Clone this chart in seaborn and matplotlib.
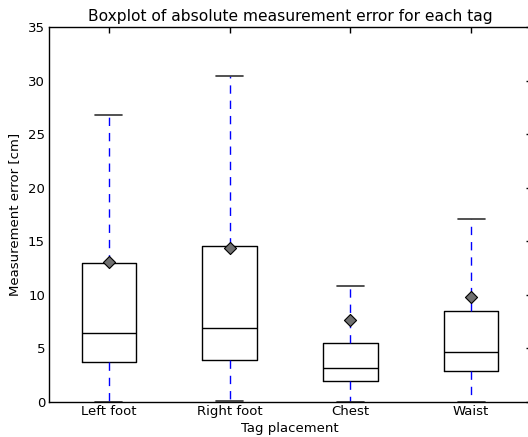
import matplotlib
matplotlib.use("Agg")
import matplotlib.pyplot as plt
import seaborn as sns
import pandas as pd
import numpy as np

categories = ["Left foot", "Right foot", "Chest", "Waist"]
whisker_low = [0.0, 0.1, 0.0, 0.0]
q1 = [3.7, 3.9, 2.0, 2.9]
median = [6.4, 6.9, 3.2, 4.7]
q3 = [13.0, 14.6, 5.5, 8.5]
whisker_high = [26.8, 30.4, 10.8, 17.1]
means = [13.1, 14.4, 7.7, 9.8]

rows = []
for i, c in enumerate(categories):
    for v in (whisker_low[i], q1[i], median[i], q3[i], whisker_high[i]):
        rows.append({"Tag placement": c, "error": v})
df = pd.DataFrame(rows)
mean_df = pd.DataFrame({"Tag placement": categories, "mean": means})

sns.set_style("white")
plt.rcParams["font.family"] = ["DejaVu Sans"]
plt.rcParams["text.color"] = "black"
plt.rcParams["axes.labelcolor"] = "black"
plt.rcParams["xtick.color"] = "black"
plt.rcParams["ytick.color"] = "black"

fig = plt.figure(figsize=(5.28, 4.37), dpi=100)
ax = fig.add_axes([48.5 / 528, 35 / 437, 483 / 528, 375 / 437])

sns.boxplot(data=df, x="Tag placement", y="error", order=categories, ax=ax,
            whis=(0, 100), width=0.45, fill=False, linecolor="black", linewidth=1,
            boxprops=dict(color="black", linewidth=1),
            whiskerprops=dict(color="blue", linestyle=(0, (6, 5)), linewidth=1),
            capprops=dict(color="#333333", linewidth=1.2),
            medianprops=dict(color="black", linewidth=1),
            showfliers=False)
sns.scatterplot(data=mean_df, x="Tag placement", y="mean", ax=ax, marker="D",
                s=38, color="#707070", edgecolor="black", linewidth=0.8, zorder=5)

ax.set_ylim(0, 35)
ax.set_xlim(-0.5, 3.5)
ax.set_yticks(np.arange(0, 36, 5))
ax.tick_params(axis="both", direction="in", length=4, width=1, color="black",
               labelcolor="black", top=True, right=True, labelsize=9.5, pad=2.5)
for s in ax.spines.values():
    s.set_color("black")
    s.set_linewidth(1)
    s.set_visible(True)
ax.set_title("Boxplot of absolute measurement error for each tag", fontsize=11.2,
             pad=4, color="black")
ax.set_xlabel("Tag placement", fontsize=9.5, labelpad=2.5, color="black")
ax.set_ylabel("Measurement error [cm]", fontsize=9.5, labelpad=5, color="black")

fig.savefig("out.png", dpi=100)
